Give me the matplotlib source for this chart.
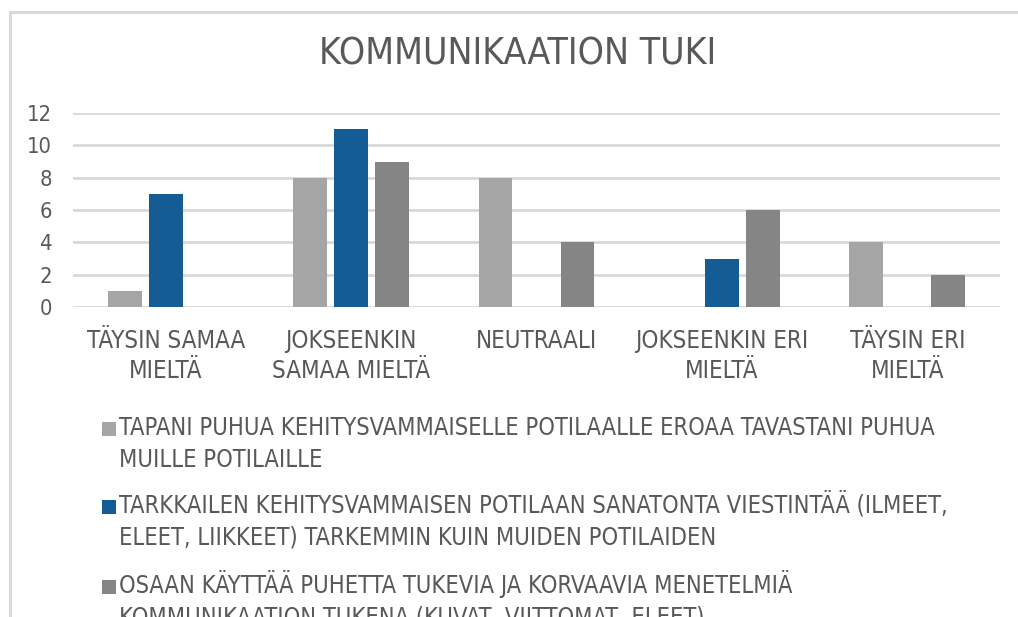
import matplotlib
matplotlib.use("Agg")
import matplotlib.pyplot as plt
import numpy as np
from matplotlib.lines import Line2D
from matplotlib.patches import Rectangle
from matplotlib import font_manager as fm
from matplotlib.font_manager import FontProperties

# ---- data ----
title = "KOMMUNIKAATION TUKI"
categories = ["TÄYSIN SAMAA\nMIELTÄ", "JOKSEENKIN\nSAMAA MIELTÄ", "NEUTRAALI",
              "JOKSEENKIN ERI\nMIELTÄ", "TÄYSIN ERI\nMIELTÄ"]
series_names = [
    "TAPANI PUHUA KEHITYSVAMMAISELLE POTILAALLE EROAA TAVASTANI PUHUA\nMUILLE POTILAILLE",
    "TARKKAILEN KEHITYSVAMMAISEN POTILAAN SANATONTA VIESTINTÄÄ (ILMEET,\nELEET, LIIKKEET) TARKEMMIN KUIN MUIDEN POTILAIDEN",
    "OSAAN KÄYTTÄÄ PUHETTA TUKEVIA JA KORVAAVIA MENETELMIÄ\nKOMMUNIKAATION TUKENA (KUVAT, VIITTOMAT, ELEET)",
]
values_tapani = [1, 8, 8, 0, 4]
values_tarkkailen = [7, 11, 0, 3, 0]
values_osaan = [0, 9, 4, 6, 2]
yticks = [0, 2, 4, 6, 8, 10, 12]

colors = ["#A5A5A5", "#155B94", "#858585"]
text_color = "#595959"
grid_color = "#D9D9D9"

# ---- font choice: prefer a condensed sans if one is installed ----
font_path = None
for f in fm.fontManager.ttflist:
    nm = f.name.lower()
    fn = f.fname.lower()
    if f.weight in (400, 'normal', 'regular', 'book') and (
            'narrow' in nm or 'condensed' in nm or f.stretch in ('condensed', 'semi-condensed')
            or 'condensed' in fn or 'narrow' in fn):
        if 'mono' in nm or 'serif' in nm or 'italic' in fn or 'oblique' in fn or 'bold' in fn or 'light' in fn:
            continue
        font_path = f.fname
        break
if font_path is None:
    font_path = fm.findfont(FontProperties(family='Liberation Sans'))


def fp(size):
    return FontProperties(fname=font_path, size=size)


W, H = 1018, 617
fig = plt.figure(figsize=(W / 100, H / 100), dpi=100)
renderer = fig.canvas.get_renderer()


def fx(px):
    return px / W


def fy(py):
    return 1 - py / H


def fit_size(text, target_px):
    t = fig.text(0, 0, text, fontproperties=fp(20))
    w = t.get_window_extent(renderer).width
    t.remove()
    return 20 * target_px / w


def lp_height(size):
    t = fig.text(0, 0, "lp", fontproperties=fp(size))
    h = t.get_window_extent(renderer).height
    t.remove()
    return h


title_size = fit_size(title, 400)
cat_size = fit_size("TÄYSIN SAMAA", 158)
leg_size = fit_size(series_names[0].split("\n")[0], 815)
tick_size = fit_size("12", 25)

ax = fig.add_axes([fx(73), fy(307), fx(1000) - fx(73), fy(113) - fy(307)])

x = np.arange(len(categories))
width = 0.183
step = 0.221
all_vals = [values_tapani, values_tarkkailen, values_osaan]
for i, (vals, c) in enumerate(zip(all_vals, colors)):
    ax.bar(x + (i - 1) * step, vals, width=width, color=c, zorder=3)

ax.set_xlim(-0.5, len(categories) - 0.5)
ax.set_ylim(0, 12)
ax.set_yticks(yticks)
ax.set_yticklabels([str(v) for v in yticks])
ax.set_xticks(x)
ax.set_xticklabels(categories)
for s in ax.spines.values():
    s.set_visible(False)
ax.grid(axis='y', color=grid_color, linewidth=2.0, zorder=0)
ax.set_axisbelow(True)
ax.tick_params(axis='both', length=0, colors=text_color)
ax.tick_params(axis='y', pad=15)
ax.tick_params(axis='x', pad=16)
for t in ax.get_yticklabels():
    t.set_fontproperties(fp(tick_size))
cat_ls = 31 / lp_height(cat_size)
for t in ax.get_xticklabels():
    t.set_fontproperties(fp(cat_size))
    t.set_linespacing(cat_ls)
    t.set_multialignment('center')

# title
fig.text(fx(518), fy(54), title, ha='center', va='center',
         fontproperties=fp(title_size), color=text_color)

# legend (manual so the handle sits on the first line, as in the reference)
leg_baselines = [(435, 467), (513, 545), (593, 625)]
for name, c, (b1, b2) in zip(series_names, colors, leg_baselines):
    fig.patches.append(Rectangle((fx(102), fy(b1 + 0.5)), fx(14), fy(0) - fy(14),
                                 transform=fig.transFigure, facecolor=c, edgecolor='none'))
    l1, l2 = name.split("\n")
    fig.text(fx(119), fy(b1), l1, ha='left', va='baseline',
             fontproperties=fp(leg_size), color=text_color)
    fig.text(fx(119), fy(b2), l2, ha='left', va='baseline',
             fontproperties=fp(leg_size), color=text_color)

# outer border (clipped chart frame)
fig.add_artist(Line2D([fx(9.5), fx(9.5)], [fy(11.5), 0], color=grid_color, linewidth=2.2))
fig.add_artist(Line2D([fx(9.5), 1], [fy(11.5), fy(11.5)], color=grid_color, linewidth=2.2))

fig.savefig("out.png", dpi=100)
